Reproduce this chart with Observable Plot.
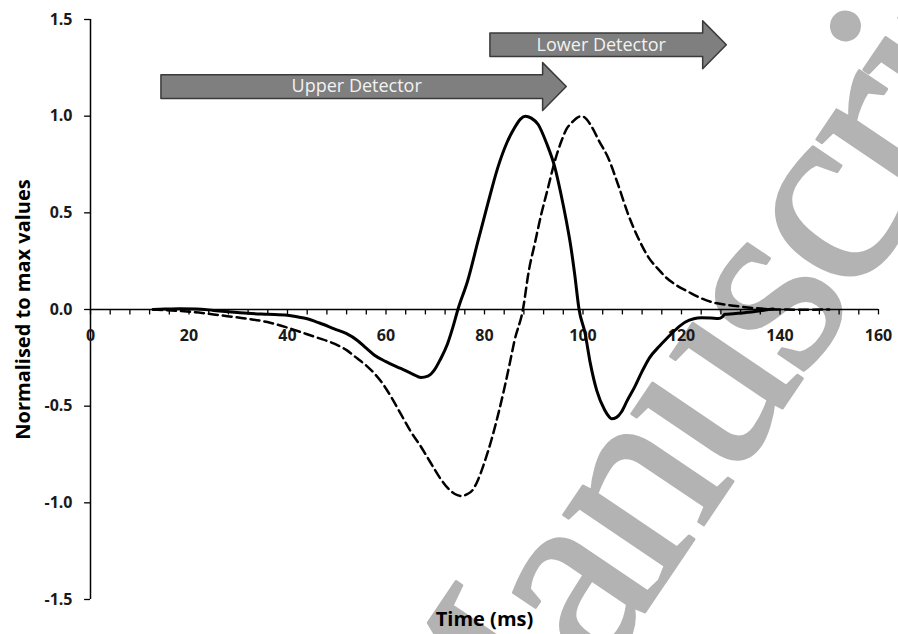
<!DOCTYPE html>
<html>
<head>
<meta charset="utf-8">
<script src="https://cdn.jsdelivr.net/npm/d3@7"></script>
<script src="https://cdn.jsdelivr.net/npm/@observablehq/plot@0.6"></script>
<style>
  html, body { margin: 0; padding: 0; background: #fff; }
</style>
</head>
<body>
<div id="chart"></div>
<script>
// ---- data ----
const upperTime = [12.7, 15, 18, 21.5, 25, 28, 32, 36, 40, 42, 44, 46.5, 49.5, 52, 54.2, 56, 57.6, 60, 63, 65.5, 67.1, 68.5, 69.8, 71, 72.5, 73.6, 74.6, 76.6, 78.7, 80.7, 82.7, 84.5, 86.1, 87.3, 88.3, 89.5, 90.9, 92.6, 94.3, 95.5, 96.6, 97.5, 98.3, 99.2, 100.4, 101.5, 102.8, 104.4, 105.3, 105.8, 106.8, 107.8, 109, 110.5, 112, 113.5, 115.5, 117, 119, 120.8, 122.5, 124, 126, 127.5, 128.3, 128.8, 130.5, 132.3, 134, 135.7, 137, 138.6];
const upperValue = [0.0, 0.002, 0.004, 0.003, -0.005, -0.012, -0.02, -0.025, -0.03, -0.038, -0.048, -0.07, -0.1, -0.125, -0.16, -0.2, -0.235, -0.27, -0.305, -0.335, -0.352, -0.345, -0.314, -0.26, -0.177, -0.09, 0.0, 0.15, 0.356, 0.55, 0.734, 0.86, 0.94, 0.985, 1.0, 0.99, 0.957, 0.86, 0.734, 0.6, 0.46, 0.33, 0.185, 0.0, -0.12, -0.28, -0.42, -0.52, -0.555, -0.565, -0.558, -0.53, -0.47, -0.40, -0.32, -0.25, -0.19, -0.15, -0.1, -0.065, -0.048, -0.043, -0.044, -0.046, -0.038, -0.025, -0.022, -0.018, -0.013, -0.008, -0.003, 0.002];

const lowerTime = [12.7, 15, 18.2, 22, 26.4, 31, 35.9, 39.5, 42.7, 46, 49.5, 52, 54.2, 56, 57.6, 59.5, 61, 63, 65, 67.1, 69, 71.2, 73, 74.5, 75.3, 76.5, 77.7, 78.7, 80, 81.4, 82.8, 84.1, 85.2, 86.1, 87.8, 89, 90.2, 91.5, 92.9, 94.2, 95.6, 96.7, 97.7, 98.7, 99.7, 100.7, 101.7, 103.3, 105.1, 107.2, 109.2, 111.2, 113.3, 115.6, 116.8, 119, 121.5, 124, 126.2, 129, 131.6, 134.5, 137, 140, 145, 150];
const lowerValue = [0.0, -0.003, -0.008, -0.016, -0.03, -0.045, -0.065, -0.09, -0.117, -0.145, -0.177, -0.21, -0.254, -0.29, -0.33, -0.39, -0.45, -0.54, -0.63, -0.71, -0.79, -0.88, -0.935, -0.96, -0.965, -0.955, -0.93, -0.88, -0.79, -0.675, -0.54, -0.40, -0.27, -0.16, 0.0, 0.2, 0.34, 0.49, 0.63, 0.76, 0.87, 0.935, 0.966, 0.99, 1.0, 0.985, 0.948, 0.87, 0.785, 0.64, 0.49, 0.37, 0.27, 0.2, 0.167, 0.125, 0.09, 0.058, 0.038, 0.025, 0.016, 0.008, 0.003, 0.0, -0.001, 0.0];

// detector arrows (time window in ms, level in normalised units)
const arrowLabels = ["Upper Detector", "Lower Detector"];
const arrowStart = [14.3, 81.1];
const arrowTip = [96.6, 129.1];
const arrowLevel = [1.153, 1.369];

const xTickValues = d3.range(0, 161, 4);
const xTickLabels = [0, 20, 40, 60, 80, 100, 120, 140, 160];
const yTickValues = [-1.5, -1.0, -0.5, 0.0, 0.5, 1.0, 1.5];

const xTitle = "Time (ms)";
const yTitle = "Normalised to max values";
const watermark = "Manuscript";

// ---- build tables ----
const upper = upperTime.map((t, i) => ({t, v: upperValue[i]}));
const lower = lowerTime.map((t, i) => ({t, v: lowerValue[i]}));

const bodyHalf = 0.061, headHalf = 0.124, headLen = 4.8;
const arrowPts = [];
arrowLabels.forEach((lab, i) => {
  const s = arrowStart[i], e = arrowTip[i], c = arrowLevel[i], b = e - headLen;
  [[s, c + bodyHalf], [b, c + bodyHalf], [b, c + headHalf], [e, c],
   [b, c - headHalf], [b, c - bodyHalf], [s, c - bodyHalf]]
    .forEach(([t, v]) => arrowPts.push({lab, t, v}));
});
const arrowText = arrowLabels.map((lab, i) => ({lab, t: (arrowStart[i] + arrowTip[i] - headLen) / 2 + 1, v: arrowLevel[i]}));

const font = "'Open Sans', 'DejaVu Sans', sans-serif";

const chart = Plot.plot({
  width: 898,
  height: 634,
  marginLeft: 90,
  marginRight: 20,
  marginTop: 19,
  marginBottom: 35,
  x: {domain: [0, 160], axis: null},
  y: {domain: [-1.5, 1.5], axis: null},
  style: {fontFamily: font, background: "#fff", overflow: "hidden"},
  marks: [
    // watermark
    Plot.text([watermark], {
      frameAnchor: "top-left", dx: 382, dy: 848, text: d => d,
      rotate: -56, textAnchor: "start", lineAnchor: "bottom",
      fontSize: 265, fontFamily: "'Liberation Serif', 'DejaVu Serif', serif",
      fill: "#b3b3b3", stroke: "#b3b3b3", strokeWidth: 3
    }),
    // detector arrows
    Plot.line(arrowPts, {x: "t", y: "v", z: "lab", curve: "linear-closed",
      fill: "#7f7f7f", stroke: "#3a3a3a", strokeWidth: 1.5}),
    Plot.text(arrowText, {x: "t", y: "v", text: "lab", fill: "#f2f2f2", fontSize: 18}),
    // axes
    Plot.ruleY([0], {x1: 0, x2: 160, stroke: "#000", strokeWidth: 1.5}),
    Plot.ruleX([0], {y1: -1.5, y2: 1.5, stroke: "#000", strokeWidth: 1.5}),
    Plot.ruleX(xTickValues, {x: d => d, y1: 0, y2: -0.028, stroke: "#000", strokeWidth: 1.3}),
    Plot.ruleY(yTickValues, {y: d => d, x1: -1.2, x2: 0, stroke: "#000", strokeWidth: 1.3}),
    Plot.text(xTickLabels, {x: d => d, y: 0, dy: 26, text: d => String(d),
      fontSize: 16, fontWeight: "bold", fill: "#1a1a1a"}),
    Plot.text(yTickValues, {x: 0, y: d => d, dx: -18, textAnchor: "end",
      text: d => d.toFixed(1), fontSize: 16, fontWeight: "bold", fill: "#1a1a1a"}),
    // series
    Plot.line(lower, {x: "t", y: "v", stroke: "#000", strokeWidth: 2.5,
      strokeDasharray: "9,5", curve: "monotone-x"}),
    Plot.line(upper, {x: "t", y: "v", stroke: "#000", strokeWidth: 3,
      curve: "monotone-x"}),
    // titles
    Plot.text([xTitle], {frameAnchor: "bottom", dy: 26, text: d => d,
      fontSize: 20, fontWeight: "bold", fill: "#000"}),
    Plot.text([yTitle], {frameAnchor: "left", dx: -67, rotate: -90, textAnchor: "middle",
      text: d => d, fontSize: 20, fontWeight: "bold", fill: "#000"})
  ]
});
d3.select(chart).selectAll("text")
  .filter(function() { return this.textContent === watermark; })
  .style("letter-spacing", "-8px");
document.getElementById("chart").appendChild(chart);
</script>
</body>
</html>
